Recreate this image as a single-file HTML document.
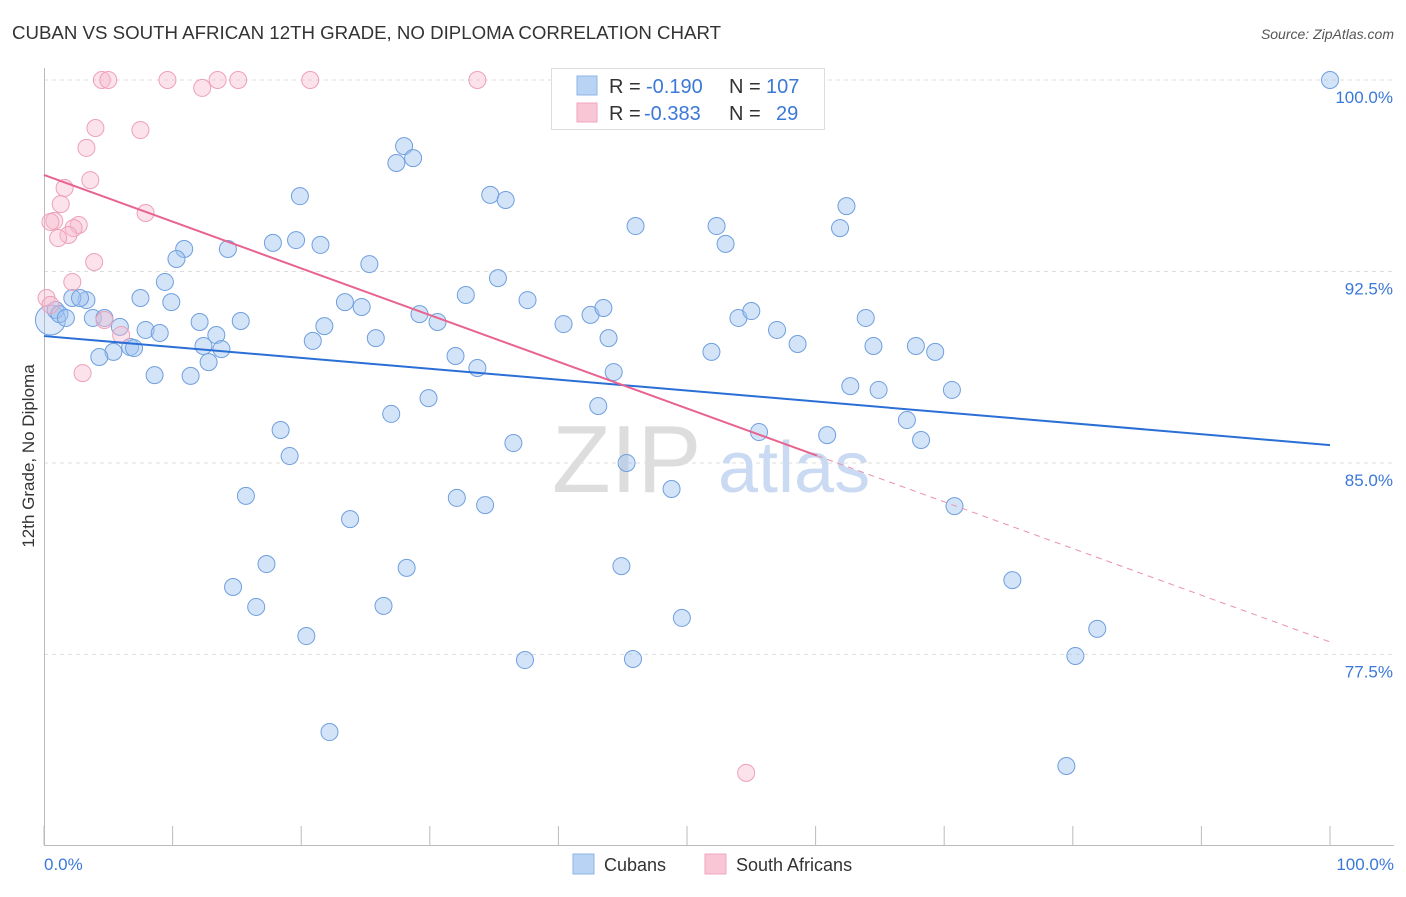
<!DOCTYPE html>
<html><head><meta charset="utf-8"><style>
body{margin:0;background:#fff;font-family:"Liberation Sans",sans-serif;}
svg text{font-family:"Liberation Sans",sans-serif;}
</style></head><body>
<svg id="chart" width="1406" height="892">
<text x="12" y="39" font-size="18" fill="#333" textLength="709" lengthAdjust="spacingAndGlyphs">CUBAN VS SOUTH AFRICAN 12TH GRADE, NO DIPLOMA CORRELATION CHART</text>
<text x="1394" y="39" font-size="14" fill="#555" font-style="italic" text-anchor="end">Source: ZipAtlas.com</text>
<g id="grid"></g>
<g><text x="552" y="492" font-size="96" font-family="Liberation Serif" fill="#ddd">ZIP</text><text x="718" y="492" font-size="72" fill="#c9daf2">atlas</text></g>
<text transform="translate(34,456) rotate(-90)" text-anchor="middle" font-size="17" fill="#333">12th Grade, No Diploma</text>
<g id="marks"></g>
<g>
<rect x="551.5" y="68.5" width="273" height="61" fill="#fff" stroke="#ddd"/>
<rect x="577" y="76" width="20" height="19" fill="#b9d3f5" stroke="#8fb4e6"/>
<rect x="577" y="103" width="20" height="19" fill="#f9c6d5" stroke="#f0a6bd"/>
<text x="609" y="93" font-size="20" fill="#333">R =</text>
<text x="646" y="93" font-size="20" fill="#3b78d8">-0.190</text>
<text x="729" y="93" font-size="20" fill="#333">N =</text>
<text x="766" y="93" font-size="20" fill="#3b78d8">107</text>
<text x="609" y="120" font-size="20" fill="#333">R =</text>
<text x="644" y="120" font-size="20" fill="#3b78d8">-0.383</text>
<text x="729" y="120" font-size="20" fill="#333">N =</text>
<text x="776" y="120" font-size="20" fill="#3b78d8">29</text>
</g>
<g>
<rect x="573" y="854" width="21" height="20" fill="#b9d3f5" stroke="#8fb4e6"/>
<text x="604" y="871" font-size="18" fill="#333">Cubans</text>
<rect x="705" y="854" width="21" height="20" fill="#f9c6d5" stroke="#f0a6bd"/>
<text x="736" y="871" font-size="18" fill="#333">South Africans</text>
</g>
</svg>
<script>
const yTicks=[100,92.5,85,77.5];
const yTickLabels=["100.0%","92.5%","85.0%","77.5%"];
const xTickLabels=["0.0%","100.0%"];
const cubansX=[100,28.0,27.4,28.7,19.9,34.7,35.9,46.0,52.3,62.4,61.9,53.0,14.3,17.8,19.6,21.5,10.9,10.3,25.3,35.3,9.4,9.9,7.5,3.3,2.2,2.8,0.9,1.2,1.7,3.8,4.7,5.9,7.9,9.0,12.1,13.4,15.3,12.4,13.8,12.8,6.7,7.0,5.4,4.3,8.6,11.4,20.9,21.8,23.4,24.7,25.8,29.2,30.6,32.8,37.6,40.4,42.5,43.5,43.9,44.3,32.0,33.7,51.9,54.0,55.0,57.0,58.6,63.9,64.5,67.8,69.3,62.7,64.9,70.6,29.9,27.0,43.1,36.5,18.4,19.1,45.3,55.6,60.9,67.1,68.2,15.7,32.1,34.3,48.8,23.8,70.8,17.3,28.2,44.9,14.7,16.5,26.4,75.3,49.6,20.4,81.9,37.4,45.8,80.2,22.2,79.5];
const cubansY=[100,97.41,96.75,96.94,95.45,95.50,95.30,94.28,94.28,95.06,94.20,93.58,93.38,93.62,93.73,93.54,93.38,92.99,92.79,92.24,92.09,91.30,91.46,91.38,91.46,91.46,90.99,90.83,90.68,90.68,90.68,90.33,90.21,90.09,90.52,90.01,90.56,89.58,89.46,88.95,89.54,89.50,89.35,89.15,88.44,88.41,89.78,90.36,91.30,91.11,89.89,90.83,90.52,91.58,91.38,90.44,90.80,91.07,89.89,88.56,89.19,88.72,89.35,90.68,90.95,90.21,89.66,90.68,89.58,89.58,89.35,88.01,87.86,87.86,87.54,86.92,87.23,85.78,86.29,85.27,85.00,86.21,86.09,86.68,85.90,83.71,83.63,83.35,83.98,82.80,83.31,81.04,80.89,80.96,80.14,79.36,79.40,80.41,78.93,78.22,78.50,77.28,77.32,77.44,74.46,73.13];
const saX=[4.5,5.0,9.6,13.5,15.1,20.7,33.7,12.3,4.0,7.5,3.3,3.6,1.6,1.3,7.9,0.8,0.5,2.7,2.3,1.9,1.1,3.9,2.2,0.2,0.5,4.7,6.0,3.0,54.6];
const saY=[100,100,100,100,100,100,100,99.69,98.12,98.04,97.34,96.08,95.77,95.14,94.79,94.48,94.44,94.32,94.20,93.93,93.81,92.87,92.09,91.46,91.19,90.60,90.01,88.52,72.86];
const cubanTrend=[89.97,85.70];
const saTrend=[96.28,77.99];
const saTrendSolidEnd=60.1;

const X0=44,X1=1330,YTOP=80,PXPER=25.53;
const sx=v=>X0+(X1-X0)*v/100;
const sy=v=>YTOP+(100-v)*PXPER;
const NS="http://www.w3.org/2000/svg";
function mk(tag,attrs,parent){const e=document.createElementNS(NS,tag);for(const k in attrs)e.setAttribute(k,attrs[k]);parent.appendChild(e);return e;}
const grid=document.getElementById('grid'),marks=document.getElementById('marks');
yTicks.forEach((t,i)=>{
 const l=mk('line',{x1:X0,x2:1394,y1:sy(t),y2:sy(t),stroke:'#ddd','stroke-dasharray':'4,4'},grid);
 
 
 const tx=mk('text',{x:1393,y:sy(t)+23,'text-anchor':'end','font-size':17,fill:'#3b78d8'},grid);
 tx.textContent=yTickLabels[i];
 
 
});
const ax=mk('line',{x1:X0,x2:1394,y1:845.5,y2:845.5,stroke:'#bbb'},grid);


const ay=mk('line',{x1:44.5,x2:44.5,y1:68,y2:845,stroke:'#bbb'},grid);


for(let i=0;i<=10;i++){const t=mk('line',{x1:sx(i*10),x2:sx(i*10),y1:826,y2:845,stroke:'#bbb'},grid);
 
 }
const xl0=mk('text',{x:44,y:870,'font-size':17,fill:'#3b78d8'},grid);xl0.textContent=xTickLabels[0];


const xl1=mk('text',{x:1394,y:870,'font-size':17,fill:'#3b78d8','text-anchor':'end'},grid);xl1.textContent=xTickLabels[1];


const big=mk('circle',{cx:sx(0.5),cy:sy(90.6),r:15,fill:'rgba(160,195,240,0.35)',stroke:'#6f9fdf','stroke-width':1},marks);


cubansX.forEach((x,i)=>{const c=mk('circle',{cx:sx(x),cy:sy(cubansY[i]),r:8.5,fill:'rgba(160,195,240,0.45)',stroke:'#6f9fdf','stroke-width':1},marks);
 
 });
saX.forEach((x,i)=>{const c=mk('circle',{cx:sx(x),cy:sy(saY[i]),r:8.5,fill:'rgba(248,185,205,0.4)',stroke:'#eea0b8','stroke-width':1},marks);
 
 });
const bt=mk('line',{x1:sx(0),y1:sy(cubanTrend[0]),x2:sx(100),y2:sy(cubanTrend[1]),stroke:'#2a6fd6','stroke-width':2},marks);


const midY=saTrend[0]+(saTrend[1]-saTrend[0])*saTrendSolidEnd/100;
const pt=mk('line',{x1:sx(0),y1:sy(saTrend[0]),x2:sx(saTrendSolidEnd),y2:sy(midY),stroke:'#e8648f','stroke-width':2},marks);


const pd=mk('line',{x1:sx(saTrendSolidEnd),y1:sy(midY),x2:sx(100),y2:sy(saTrend[1]),stroke:'#eb90ad','stroke-width':1,'stroke-dasharray':'6,5'},marks);


</script>
</body></html>
